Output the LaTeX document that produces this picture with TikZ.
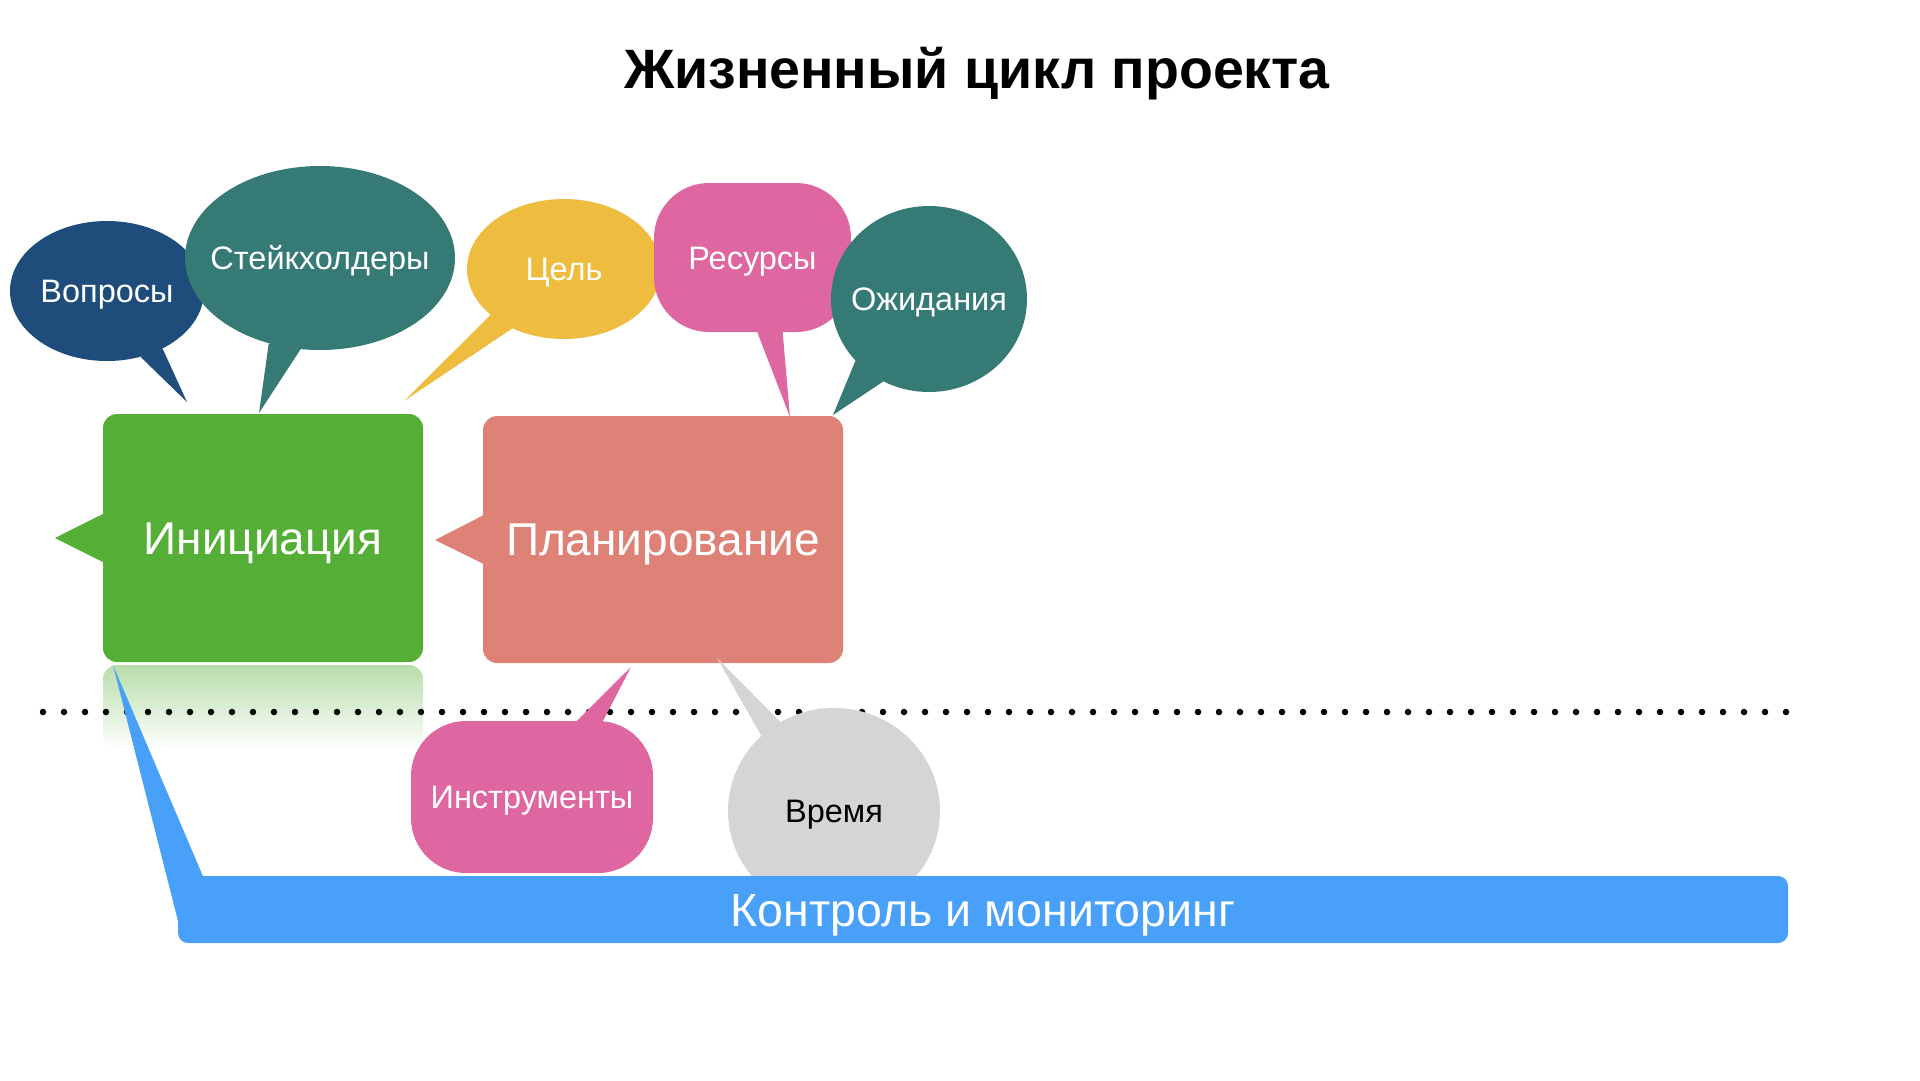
\documentclass[tikz,border=0pt]{standalone}
\usepackage{fontspec}
\setmainfont{Liberation Sans}
\usetikzlibrary{shapes.geometric,calc}
\definecolor{cVop}{HTML}{1F4D7B}
\definecolor{cTeal}{HTML}{367A75}
\definecolor{cYel}{HTML}{EEBD40}
\definecolor{cPink}{HTML}{DE67A2}
\definecolor{cGreen}{HTML}{55AE35}
\definecolor{cSalmon}{HTML}{DE8277}
\definecolor{cGray}{HTML}{D6D4D5}
\definecolor{cBlue}{HTML}{48A0F8}
\tikzset{
  bub/.style={ellipse, inner xsep=-60pt, inner ysep=0pt, text=white,
    font=\fontsize{32.5}{32.5}\selectfont, text height=23.3pt, text depth=0pt},
  rbub/.style={rectangle, rounded corners=55pt, inner sep=0pt, text=white,
    font=\fontsize{32.5}{32.5}\selectfont, text height=23.3pt, text depth=0pt},
  phase/.style={rectangle, rounded corners=14pt, inner sep=0pt, text=white,
    font=\fontsize{46}{46}\selectfont, text height=32.9pt, text depth=0pt},
  barbox/.style={rectangle, rounded corners=10pt, inner sep=0pt, text=white,
    font=\fontsize{46.5}{46.5}\selectfont, text height=33.3pt, text depth=0pt},
  reflbox/.style={rectangle, rounded corners=14pt, inner sep=0pt,
    top color=cGreen!42!white, bottom color=white},
  dotline/.style={line width=6.5pt, line cap=round, dash pattern=on 0pt off 21pt},
  titletext/.style={font=\bfseries\fontsize{55.5}{55.5}\selectfont, anchor=base}
}
\begin{document}
\begin{tikzpicture}[x=1pt,y=-1pt]
\useasboundingbox (0,0) rectangle (1920,1080);

% reflection of the first phase
\node[reflbox, minimum width=320pt, minimum height=85pt] (refl) at (263,707.5) {};

% dotted time line
\coordinate (dl) at (43,712);
\coordinate (dr) at (1790,712);
\draw[dotline] (dl) -- (dr);

% upper bubbles
\node[bub, fill=cVop, minimum width=194pt, minimum height=140pt] (vop) at (107,291) {Вопросы};
\coordinate (tVop) at (187,402);
\fill[cVop] (vop.297) -- (tVop) -- (vop.314) -- cycle;

\node[bub, fill=cTeal, minimum width=270pt, minimum height=184pt] (stk) at (320,258) {Стейкхолдеры};
\coordinate (tStk) at (259,413);
\fill[cTeal] (stk.239) -- (tStk) -- (stk.258) -- cycle;

\node[bub, fill=cYel, minimum width=194pt, minimum height=140pt] (cel) at (564,269) {Цель};
\coordinate (tCel) at (404,401);
\fill[cYel] (cel.212) -- (tCel) -- (cel.229) -- cycle;

\node[rbub, fill=cPink, minimum width=197pt, minimum height=149pt] (res) at (752.5,257.5) {Ресурсы};
\coordinate (tRes) at (790,417);
\fill[cPink] ($(res.south)+(4,-2)$) -- (tRes) -- ($(res.south)+(30,-2)$) -- cycle;

\node[bub, fill=cTeal, minimum width=196pt, minimum height=186pt] (ozh) at (929,299) {Ожидания};
\coordinate (tOzh) at (833,415);
\fill[cTeal] (ozh.220) -- (tOzh) -- (ozh.241) -- cycle;

% phases
\node[phase, fill=cGreen, minimum width=320pt, minimum height=248pt] (init) at (263,538) {Инициация};
\coordinate (pInit) at (55,538);
\fill[cGreen] (pInit) -- ($(init.west)+(2,-25)$) -- ($(init.west)+(2,25)$) -- cycle;

\node[phase, fill=cSalmon, minimum width=360pt, minimum height=247pt] (plan) at (663,539.5) {Планирование};
\coordinate (pPlan) at (435,540);
\fill[cSalmon] (pPlan) -- ($(plan.west)+(2,-25)$) -- ($(plan.west)+(2,25)$) -- cycle;

% lower bubbles
\node[rbub, fill=cPink, minimum width=242pt, minimum height=152pt] (ins) at (532,797) {Инструменты};
\coordinate (tIns) at (631,667);
\fill[cPink] ($(ins.north)+(43,2)$) -- (tIns) -- ($(ins.north)+(70,2)$) -- cycle;

\node[bub, fill=cGray, text=black, minimum width=212pt, minimum height=206pt] (vre) at (834,811) {Время};
\coordinate (tVre) at (717,658);
\fill[cGray] (vre.134) -- (tVre) -- (vre.121) -- cycle;

% control bar
\node[barbox, fill=cBlue, minimum width=1610pt, minimum height=67pt] (ctrl) at (983,909.5) {Контроль и мониторинг};
\coordinate (tCtrl) at (113,665);
\fill[cBlue] (tCtrl) -- ($(ctrl.north west)+(25,0)$) -- ($(ctrl.south west)+(0,-23)$) -- cycle;

% title
\node[titletext] (title) at (977,88) {Жизненный цикл проекта};
\end{tikzpicture}
\end{document}
